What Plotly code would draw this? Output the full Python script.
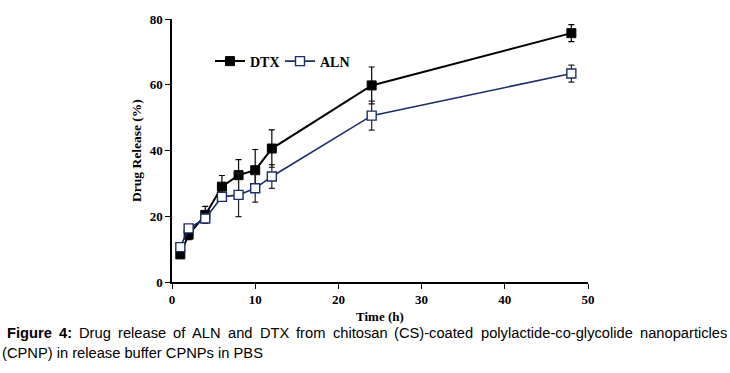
import plotly.graph_objects as go

time_h = [1, 2, 4, 6, 8, 10, 12, 24, 48]
dtx = [8.4, 14.4, 20.4, 29.0, 32.5, 34.0, 40.6, 59.8, 75.7]
dtx_err = [0.6, 1.5, 2.6, 3.4, 4.7, 6.3, 5.7, 5.6, 2.6]
aln = [10.6, 16.3, 19.3, 25.9, 26.5, 28.5, 32.1, 50.6, 63.4]
aln_err = [0.6, 1.0, 1.0, 1.0, 6.6, 4.2, 3.6, 4.4, 2.6]

x_ticks = [0, 10, 20, 30, 40, 50]
y_ticks = [0, 20, 40, 60, 80]

caption_line1 = ["Figure", "4:", "Drug", "release", "of", "ALN", "and", "DTX",
                 "from", "chitosan", "(CS)-coated", "polylactide-co-glycolide", "nanoparticles"]
caption_bold = {"Figure", "4:"}
caption_line2 = "(CPNP) in release buffer CPNPs in PBS"

navy = "#1c2d6b"
serif = "Liberation Serif"
sans = "Liberation Sans"
cap_size = 14.7

L, R, T, B = 172, 142, 16, 91
W, H = 730, 373
pw, ph = W - L - R, H - T - B

# Arial-compatible advance widths (1/1000 em) for justified caption layout
reg_w = {' ': 278, '(': 333, ')': 333, '-': 333, 'A': 667, 'C': 722, 'D': 722, 'L': 556,
         'N': 722, 'P': 667, 'S': 667, 'T': 611, 'X': 667, 'a': 556, 'c': 500, 'd': 556,
         'e': 556, 'f': 278, 'g': 556, 'h': 556, 'i': 222, 'l': 222, 'm': 833, 'n': 556,
         'o': 556, 'p': 556, 'r': 333, 's': 500, 't': 278, 'u': 556, 'y': 500, ':': 278, '4': 556}
bold_w = {'F': 611, 'i': 278, 'g': 611, 'u': 611, 'r': 389, 'e': 556, '4': 556, ':': 333}


def word_width(w):
    table = bold_w if w in caption_bold else reg_w
    return sum(table[c] for c in w) * cap_size / 1000.0


fig = go.Figure()
fig.add_trace(go.Scatter(
    x=time_h, y=dtx, name="<b>DTX</b>", mode="lines+markers",
    line=dict(color="black", width=2),
    marker=dict(symbol="square", size=9, color="black", line=dict(color="black", width=1)),
    error_y=dict(type="data", array=dtx_err, color="black", thickness=1.2, width=3),
))
fig.add_trace(go.Scatter(
    x=time_h, y=aln, name="<b>ALN</b>", mode="lines+markers",
    line=dict(color=navy, width=1.6),
    marker=dict(symbol="square", size=9, color="white", line=dict(color=navy, width=1.4)),
    error_y=dict(type="data", array=aln_err, color="#222", thickness=1.2, width=3),
))

fig.update_layout(
    width=W, height=H,
    margin=dict(l=L, r=R, t=T, b=B),
    paper_bgcolor="white", plot_bgcolor="white",
    showlegend=True,
    legend=dict(orientation="h", x=(210 - L) / pw, y=(H - B - 59) / ph, xanchor="left", yanchor="middle",
                font=dict(family=serif, size=14, color="black"),
                bgcolor="rgba(0,0,0,0)", entrywidth=25, entrywidthmode="pixels", tracegroupgap=0),
    font=dict(family=serif, color="black"),
)
fig.update_xaxes(
    range=[0, 50], tickvals=x_ticks, ticktext=[f"<b>{v}</b>" for v in x_ticks],
    showline=True, linecolor="black", linewidth=1.5, ticks="outside", ticklen=5,
    tickcolor="black", showgrid=False, zeroline=False,
    tickfont=dict(family=serif, size=13, color="black"),
)
fig.update_yaxes(
    range=[0, 80], tickvals=y_ticks, ticktext=[f"<b>{v}</b>" for v in y_ticks],
    showline=True, linecolor="black", linewidth=1.5, ticks="outside", ticklen=5,
    tickcolor="black", showgrid=False, zeroline=False,
    tickfont=dict(family=serif, size=13, color="black"),
    title=dict(text="<b>Drug Release (%)</b>", font=dict(family=serif, size=13.5, color="black"), standoff=5),
)


def px_x(px):
    return (px - L) / pw


def px_y(py):
    return (H - B - py) / ph


fig.add_annotation(text="<b>Time (h)</b>", xref="paper", yref="paper", x=px_x(380), y=px_y(317),
                   xanchor="center", yanchor="middle", showarrow=False,
                   font=dict(family=serif, size=13, color="black"))

# justified first caption line
line_start, line_end = 6, 726
widths = [word_width(w) for w in caption_line1]
gap = (line_end - line_start - sum(widths)) / (len(caption_line1) - 1)
xpos = line_start
for word, wd in zip(caption_line1, widths):
    txt = f"<b>{word}</b>" if word in caption_bold else word
    fig.add_annotation(text=txt, xref="paper", yref="paper", x=px_x(xpos), y=px_y(334),
                       xanchor="left", yanchor="middle", showarrow=False, borderpad=0,
                       font=dict(family=sans, size=cap_size, color="black"))
    xpos += wd + gap

fig.add_annotation(text=caption_line2, xref="paper", yref="paper", x=px_x(1), y=px_y(354),
                   xanchor="left", yanchor="middle", showarrow=False, borderpad=0,
                   font=dict(family=sans, size=cap_size, color="black"))

fig.write_html("out.html", config={"displayModeBar": False},
               post_script="document.body.style.margin='0';")
